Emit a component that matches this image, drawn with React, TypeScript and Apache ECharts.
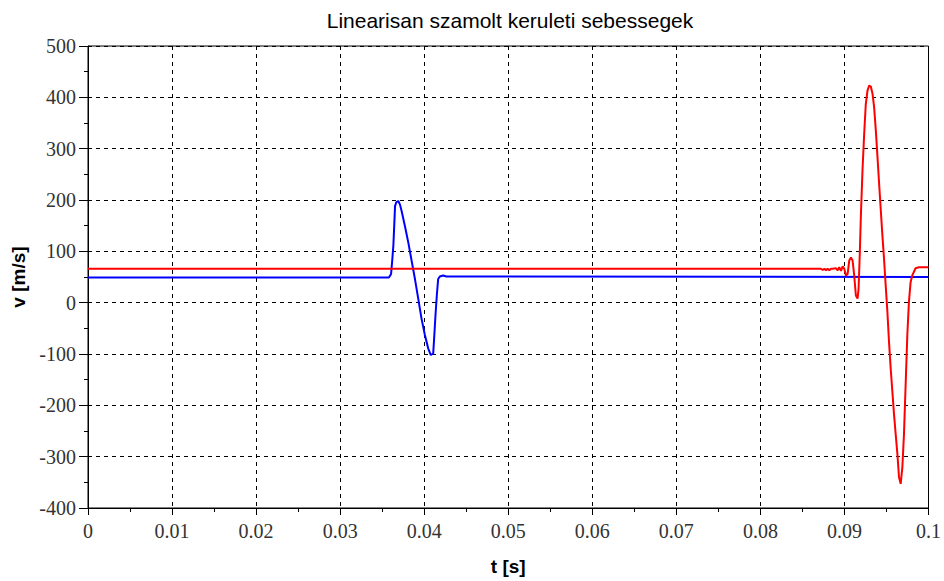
import React, { useEffect, useRef } from "react";
import * as echarts from "echarts";

const titleText = "Linearisan szamolt keruleti sebessegek";
const xName = "t [s]";
const yName = "v [m/s]";

// Blue series (time in s, speed in m/s)
const blueT = [0, 0.0358, 0.03606, 0.03621, 0.03633, 0.03645, 0.03653, 0.03669, 0.03692, 0.03712, 0.03732, 0.03771, 0.03811, 0.0385, 0.0389, 0.03929, 0.03968, 0.04008, 0.04047, 0.04079, 0.04107, 0.04118, 0.04134, 0.0415, 0.04166, 0.04186, 0.04225, 0.04264, 0.1];
const blueV = [49, 49, 56, 85, 111, 156, 188, 196, 198, 191, 178, 149, 117, 82, 46, 8, -31, -63, -89, -102, -99, -70, -25, 14, 46, 51, 53, 51, 50];

// Red series
const redT = [0, 0.0872, 0.08742, 0.08761, 0.08781, 0.088, 0.0882, 0.0884, 0.0886, 0.089, 0.0892, 0.08938, 0.08959, 0.08979, 0.08998, 0.09018, 0.09038, 0.09057, 0.09077, 0.09097, 0.09116, 0.09136, 0.09156, 0.09168, 0.09183, 0.09195, 0.09215, 0.09235, 0.09254, 0.09274, 0.09294, 0.09314, 0.09334, 0.09353, 0.09373, 0.09393, 0.09412, 0.09432, 0.09452, 0.09471, 0.09491, 0.09511, 0.0953, 0.0955, 0.0957, 0.0959, 0.0961, 0.0963, 0.09649, 0.09669, 0.09689, 0.09708, 0.09728, 0.09748, 0.09767, 0.09787, 0.09807, 0.09846, 0.09885, 0.1];
const redV = [66, 66, 64, 66, 63, 66, 63, 66, 66, 67, 63, 69, 62, 71, 66, 53, 56, 82, 88, 82, 53, 14, 8, 27, 98, 168, 259, 330, 387, 413, 423, 421, 407, 381, 336, 284, 233, 181, 130, 85, 33, -18, -76, -128, -173, -218, -257, -295, -340, -353, -321, -257, -160, -63, 1, 40, 53, 67, 69, 69];

const xMin = 0;
const xMax = 0.1;
const xStep = 0.01;
const yMin = -400;
const yMax = 500;
const yStep = 100;

const zip = (a: number[], b: number[]) => a.map((t, i) => [t, b[i]]);

export default function App() {
  const ref = useRef<HTMLDivElement>(null);
  useEffect(() => {
    if (!ref.current) return;
    const chart = echarts.init(ref.current, null, { renderer: "svg" });
    const serif = "Liberation Serif";
    const sans = "Liberation Sans";
    chart.setOption({
      animation: false,
      backgroundColor: "#ffffff",
      grid: {
        left: 88,
        right: 12,
        top: 46,
        bottom: 71,
        show: true,
        borderColor: "#000",
        borderWidth: 1,
        backgroundColor: "transparent",
      },
      graphic: [
        {
          type: "text",
          x: 510,
          y: 20,
          style: {
            text: titleText,
            textAlign: "center",
            textVerticalAlign: "middle",
            fontFamily: sans,
            fontSize: 21,
            fill: "#000",
          },
        },
      ],
      xAxis: {
        type: "value",
        min: xMin,
        max: xMax,
        interval: xStep,
        name: xName,
        nameLocation: "middle",
        nameGap: 49,
        nameTextStyle: { fontFamily: sans, fontSize: 19, fontWeight: "bold", color: "#000" },
        axisLine: { show: true, onZero: false, lineStyle: { color: "#000", width: 1 } },
        axisTick: { show: true, inside: false, length: 7, lineStyle: { color: "#000" } },
        minorTick: { show: true, splitNumber: 2, length: 4, lineStyle: { color: "#000" } },
        axisLabel: { fontFamily: serif, fontSize: 20, color: "#333", margin: 13 },
        splitLine: { show: true, lineStyle: { color: "#000", type: [4, 4], width: 1 } },
      },
      yAxis: {
        type: "value",
        min: yMin,
        max: yMax,
        interval: yStep,
        name: yName,
        nameLocation: "middle",
        nameGap: 58,
        nameTextStyle: { fontFamily: sans, fontSize: 19, fontWeight: "bold", color: "#000" },
        axisLine: { show: true, onZero: false, lineStyle: { color: "#000", width: 1 } },
        axisTick: { show: true, inside: false, length: 9, lineStyle: { color: "#000" } },
        minorTick: { show: true, splitNumber: 2, length: 4, lineStyle: { color: "#000" } },
        axisLabel: { fontFamily: serif, fontSize: 20, color: "#333", margin: 12 },
        splitLine: { show: true, lineStyle: { color: "#000", type: [4, 4], width: 1 } },
      },
      series: [
        {
          type: "line",
          name: "red",
          data: zip(redT, redV),
          showSymbol: false,
          symbol: "none",
          lineStyle: { color: "#ff0000", width: 2 },
          itemStyle: { color: "#ff0000" },
          z: 3,
        },
        {
          type: "line",
          name: "blue",
          data: zip(blueT, blueV),
          showSymbol: false,
          symbol: "none",
          lineStyle: { color: "#0000ff", width: 2 },
          itemStyle: { color: "#0000ff" },
          z: 2,
        },
      ],
    });
    return () => chart.dispose();
  }, []);
  return (
    <div
      ref={ref}
      style={{ position: "fixed", left: 0, top: 0, width: 944, height: 581, background: "#fff" }}
    />
  );
}
